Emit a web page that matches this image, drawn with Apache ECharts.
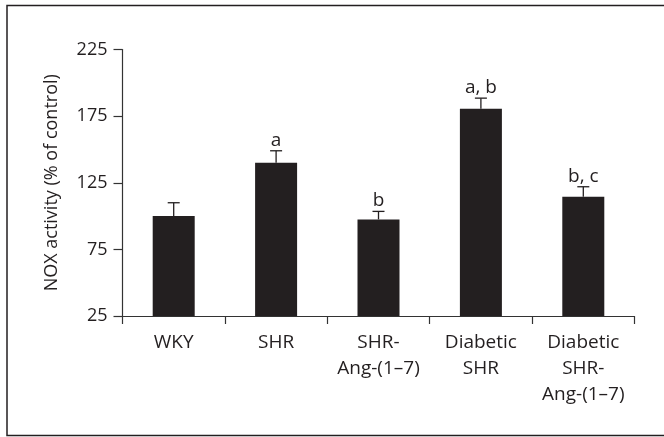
<!DOCTYPE html>
<html>
<head>
<meta charset="utf-8">
<script src="https://cdn.jsdelivr.net/npm/echarts@6/dist/echarts.min.js"></script>
<style>
  html, body { margin: 0; padding: 0; background: #ffffff; }
  #chart { width: 664px; height: 437px; }
</style>
</head>
<body>
<div id="chart"></div>
<script>
// Groups along the x axis
const groups = ['WKY', 'SHR', 'SHR-\nAng-(1–7)', 'Diabetic\nSHR', 'Diabetic\nSHR-\nAng-(1–7)'];
// Mean NOX activity, % of control
const noxMean = [100, 140, 97.5, 180.5, 114.5];
// Standard error (upper whisker only)
const noxSem = [10, 9, 6, 8, 7.5];
// Significance letters above each bar
const sigLetters = ['', 'a', 'b', 'a, b', 'b, c'];
// Y axis tick values
const yTicks = [25, 75, 125, 175, 225];

const ink = '#231f20';
const font = 'Open Sans';

const chart = echarts.init(document.getElementById('chart'), null, { renderer: 'canvas' });

chart.setOption({
  animation: false,
  backgroundColor: '#ffffff',
  textStyle: { fontFamily: font, color: ink },
  grid: { left: 122.5, right: 29.5, top: 49.5, bottom: 121, containLabel: false },
  graphic: [{
    type: 'rect',
    shape: { x: 7, y: 5.5, width: 680, height: 430 },
    style: { fill: 'none', stroke: ink, lineWidth: 1.5 },
    silent: true
  }],
  xAxis: {
    type: 'category',
    data: groups,
    axisLine: { lineStyle: { color: '#333', width: 1.2 } },
    axisTick: { show: true, length: 8, lineStyle: { color: '#333', width: 1.2 } },
    axisLabel: {
      margin: 14, fontSize: 19, lineHeight: 26, color: ink, fontFamily: font,
      interval: 0
    }
  },
  yAxis: {
    type: 'value',
    min: 25,
    max: 225,
    interval: 25,
    name: 'NOX activity (% of control)',
    nameLocation: 'middle',
    nameGap: 62,
    nameTextStyle: { fontSize: 18, color: ink, fontFamily: font },
    splitLine: { show: false },
    axisLine: { show: true, lineStyle: { color: '#333', width: 1.2 } },
    axisTick: { show: true, length: 9, customValues: yTicks, lineStyle: { color: '#333', width: 1.2 } },
    axisLabel: { margin: 15, fontSize: 18, color: ink, fontFamily: font, customValues: yTicks }
  },
  series: [
    {
      type: 'bar',
      data: noxMean,
      barWidth: 42,
      itemStyle: { color: ink }
    },
    {
      type: 'custom',
      data: noxMean.map((m, i) => [i, m, noxSem[i]]),
      z: 5,
      renderItem: function (params, api) {
        const i = api.value(0);
        const mean = api.value(1);
        const top = mean + api.value(2);
        const p0 = api.coord([i, mean]);
        const p1 = api.coord([i, top]);
        const cap = 6;
        const children = [
          { type: 'line', shape: { x1: p0[0], y1: p0[1], x2: p1[0], y2: p1[1] },
            style: { stroke: ink, lineWidth: 1.3 } },
          { type: 'line', shape: { x1: p1[0] - cap, y1: p1[1], x2: p1[0] + cap, y2: p1[1] },
            style: { stroke: ink, lineWidth: 1.3 } }
        ];
        const letter = sigLetters[params.dataIndex];
        if (letter) {
          children.push({
            type: 'text',
            style: {
              text: letter, x: p1[0], y: p1[1] - 1,
              align: 'center', verticalAlign: 'bottom',
              fontSize: 19, fontFamily: font, fill: ink
            }
          });
        }
        return { type: 'group', children: children };
      }
    }
  ]
});
</script>
</body>
</html>
